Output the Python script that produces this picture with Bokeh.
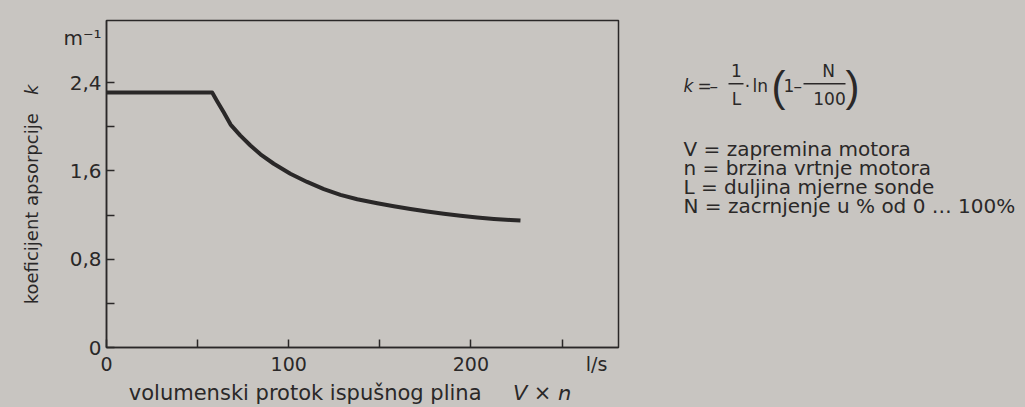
from bokeh.plotting import figure
from bokeh.models import Range1d, FixedTicker, LinearAxis, ColumnDataSource
from bokeh.layouts import row
from bokeh.core.properties import value
from bokeh.embed import file_html
from bokeh.resources import INLINE

# ---- data ----
flow = [0, 58, 60.8, 64.4, 68.1, 73.5, 79, 84.5, 91.8, 100.9, 110.1, 119.3, 128.4,
        137.6, 148.6, 157.7, 166.8, 176, 185.1, 194.3, 203.4, 212.6, 221.7, 227.2]      # l/s
k_coef = [2.31, 2.31, 2.23, 2.13, 2.02, 1.92, 1.83, 1.75, 1.665, 1.575, 1.50, 1.435, 1.383,
          1.343, 1.307, 1.28, 1.255, 1.232, 1.212, 1.194, 1.178, 1.165, 1.155, 1.15]   # 1/m

x_ticks = [0, 100, 200]
x_minor = [50, 150, 250]
x_tick_labels = ["0", "100", "200"]
x_unit_pos = 269
x_unit = "l/s"
y_ticks = [0, 0.8, 1.6, 2.4]
y_minor = [0.4, 1.2, 2.0]
y_tick_labels = ["0", "0,8", "1,6", "2,4"]
y_unit_pos = 2.80
y_unit = "m\u207b\u00b9"

# titles; trailing en/thin spaces only shift the centred title to its place
x_title = ("volumenski protok ispušnog plina\u2002\u2002\u2002\U0001D61D \u00d7 \U0001D62F"
           "\u2002\u2002\u2009")
y_title = "koeficijent apsorpcije\u2002\u2002\U0001D62C\u2002\u2002\u2009"

legend_lines = [
    "V = zapremina motora",
    "n = brzina vrtnje motora",
    "L = duljina mjerne sonde",
    "N = zacrnjenje u % od 0 \u2026 100%",
]

BG = "#c8c5c1"
INK = "#2a2828"
FONT = "DejaVu Sans"

# ---- main chart ----
p = figure(width=620, height=407, output_backend="svg", toolbar_location=None,
           x_range=Range1d(0, 281), y_range=Range1d(0, 2.963),
           min_border_left=106, min_border_right=2, min_border_top=20, min_border_bottom=56)
p.background_fill_color = BG
p.border_fill_color = BG
p.outline_line_color = INK
p.outline_line_width = 1.5
p.xgrid.visible = False
p.ygrid.visible = False

# inner axes: axis lines and inward tick marks only (all marks as unlabelled minor ticks)
for ax, ticks, minor in ((p.xaxis[0], x_ticks, x_minor), (p.yaxis[0], y_ticks, y_minor)):
    ax.ticker = FixedTicker(ticks=[], minor_ticks=sorted(ticks + minor))
    ax.axis_line_color = INK
    ax.axis_line_width = 1.5
    ax.minor_tick_line_color = INK
    ax.minor_tick_line_width = 1.5
    ax.minor_tick_in = 8
    ax.minor_tick_out = 0
    ax.major_tick_in = 0
    ax.major_tick_out = 0
    ax.major_label_standoff = 0

# outer axes: tick labels, unit labels and titles
xlab = LinearAxis(ticker=FixedTicker(ticks=x_ticks + [x_unit_pos], minor_ticks=[]),
                  major_label_overrides=dict(zip(x_ticks + [x_unit_pos], x_tick_labels + [x_unit])),
                  axis_label=x_title)
ylab = LinearAxis(ticker=FixedTicker(ticks=y_ticks + [y_unit_pos], minor_ticks=[]),
                  major_label_overrides=dict(zip(y_ticks + [y_unit_pos], y_tick_labels + [y_unit])),
                  axis_label=y_title)
for ax, size, lsize, lstand in ((xlab, "19px", "21px", 3), (ylab, "20px", "18px", 18)):
    ax.axis_line_color = None
    ax.major_tick_line_color = None
    ax.minor_tick_line_color = None
    ax.major_tick_in = 0
    ax.major_tick_out = 0
    ax.minor_tick_in = 0
    ax.minor_tick_out = 0
    ax.major_label_text_font = FONT
    ax.major_label_text_font_size = size
    ax.major_label_text_color = INK
    ax.major_label_standoff = 5
    ax.axis_label_text_font = FONT
    ax.axis_label_text_font_size = lsize
    ax.axis_label_text_font_style = "normal"
    ax.axis_label_text_color = INK
    ax.axis_label_standoff = lstand
p.add_layout(xlab, "below")
p.add_layout(ylab, "left")

p.line(flow, k_coef, line_color=INK, line_width=4, line_join="round")

# ---- right panel with formula and legend (page coordinates) ----
q = figure(width=405, height=407, output_backend="svg", toolbar_location=None,
           x_range=Range1d(620, 1025), y_range=Range1d(351, 20),
           min_border_left=0, min_border_right=0, min_border_top=20, min_border_bottom=56,
           x_axis_type=None, y_axis_type=None)
q.background_fill_color = BG
q.border_fill_color = BG
q.outline_line_color = BG
q.outline_line_width = 3
q.xgrid.visible = False
q.ygrid.visible = False

def txt(x, y, t, size="17px", style="normal", align="left", font=FONT):
    q.text(x=[x], y=[y], text=[t], text_font=value(font), text_font_size=value(size),
           text_font_style=style, text_color=INK, text_align=align, text_baseline="middle")

Y0 = 86
txt(683, Y0, "k", style="italic")
txt(697, Y0, "=")
txt(709, Y0, "\u2013")
txt(736, Y0 - 15, "1", align="center")
txt(736, Y0 + 13, "L", align="center")
q.segment(x0=[728], y0=[Y0 - 2], x1=[743], y1=[Y0 - 2], line_color=INK, line_width=1.5)
txt(747, Y0, "\u00b7", align="center")
txt(752, Y0, "ln")
txt(778, Y0 + 1, "(", size="42px", align="center", font="Liberation Sans")
txt(783, Y0, "1")
txt(793, Y0, "\u2013")
txt(828, Y0 - 15, "N", align="center")
txt(829, Y0 + 13, "100", align="center")
q.segment(x0=[803], y0=[Y0 - 2], x1=[845], y1=[Y0 - 2], line_color=INK, line_width=1.5)
txt(852, Y0 + 1, ")", size="42px", align="center", font="Liberation Sans")

src = ColumnDataSource(dict(x=[683] * len(legend_lines), y=[150, 169, 189, 208], t=legend_lines))
q.text(x="x", y="y", text="t", source=src, text_font=value(FONT), text_font_size=value("20px"),
       text_color=INK, text_align="left", text_baseline="middle")

layout = row(p, q, styles={"background-color": BG})
open("out.html", "w").write(file_html(layout, INLINE))
